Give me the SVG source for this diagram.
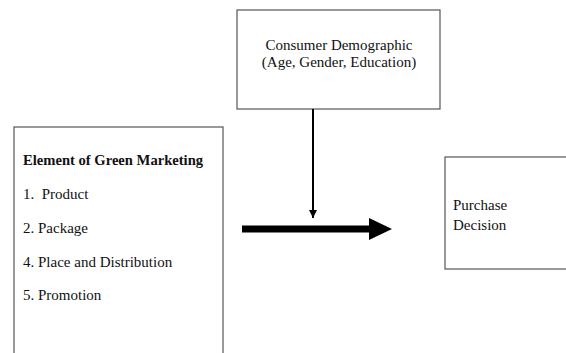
<svg xmlns="http://www.w3.org/2000/svg" width="566" height="353" viewBox="0 0 566 353">
<defs>
<style>
.box{fill:#fff;stroke:#555;stroke-width:1.2}
.t{font-family:"Liberation Serif",serif;font-size:15px;fill:#111}
.b{font-weight:bold;font-size:14.6px}
</style>
<marker id="ah" viewBox="0 0 10 10" refX="10" refY="5" markerWidth="8" markerHeight="8" markerUnits="userSpaceOnUse" orient="auto">
<path d="M0,0 L10,5 L0,10 z" fill="#000"/>
</marker>
</defs>
<rect width="566" height="353" fill="#fff"/>
<g id="elements">
<rect class="box" x="14" y="127" width="209" height="240"/>
<text class="t b" x="23" y="165">Element of Green Marketing</text>
<text class="t" x="23" y="199" xml:space="preserve">1.  Product</text>
<text class="t" x="23" y="233">2. Package</text>
<text class="t" x="23" y="267">4. Place and Distribution</text>
<text class="t" x="23" y="300">5. Promotion</text>
</g>
<g id="demographic">
<rect class="box" x="237" y="10" width="203" height="99"/>
<text class="t" x="339" y="50" text-anchor="middle">Consumer Demographic</text>
<text class="t" x="339" y="67" text-anchor="middle">(Age, Gender, Education)</text>
</g>
<g id="purchase">
<rect class="box" x="445" y="157" width="130" height="112"/>
<text class="t" x="453" y="210">Purchase</text>
<text class="t" x="453" y="230">Decision</text>
</g>
<g id="connectors">
<line x1="313" y1="109" x2="313" y2="218" stroke="#000" stroke-width="2" marker-end="url(#ah)"/>
<rect x="242" y="225.5" width="128" height="7" fill="#000"/>
<path d="M369,218 L392,229 L369,240 z" fill="#000"/>
</g>
</svg>
